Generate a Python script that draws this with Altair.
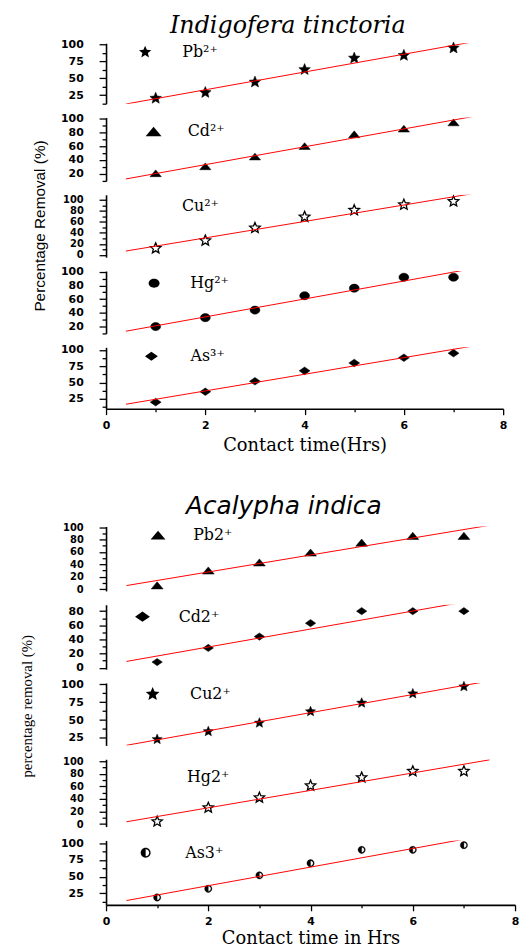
import math
import altair as alt
import pandas as pd

# ---------------- data ----------------
time_hrs = [1, 2, 3, 4, 5, 6, 7]

# Indigofera tinctoria (upper figure)
it_pb = [20.5, 29, 44.5, 63, 80, 84, 95]
it_cd = [21, 31, 45, 60, 77, 85, 94]
it_cu = [12, 26, 49, 69, 81, 91, 97]
it_hg = [20, 33, 44, 65, 76, 92, 92]
it_as = [20, 36, 52, 68, 80, 88, 95]
it_ions = ["Pb²⁺", "Cd²⁺", "Cu²⁺", "Hg²⁺", "As³⁺"]

# Acalypha indica (lower figure)
ai_pb = [6, 30, 43, 59, 75, 86, 86]
ai_cd = [8, 28, 44, 63, 80, 80, 80]
ai_cu = [23, 34, 46, 62, 74, 87, 97]
ai_hg = [4, 26, 42, 61, 74, 84, 84]
ai_as = [19, 32, 52, 70, 90, 90, 97]
ai_ions = ["Pb2⁺", "Cd2⁺", "Cu2⁺", "Hg2⁺", "As3⁺"]

x_ticks = [0, 1, 2, 3, 4, 5, 6, 7, 8]

# y-axis domains and major tick steps per panel
it_domains = [[12.5, 102], [10, 101], [-4, 109], [10, 101], [10, 104]]
it_steps = [25, 20, 20, 20, 25]
ai_domains = [[-3, 101], [-2, 89], [14.5, 102], [-4, 103], [8, 104]]
ai_steps = [20, 20, 25, 20, 25]


# ---------------- marker shapes ----------------
def star_path(inner=0.45):
    pts = []
    for k in range(10):
        ang = math.radians(-90 + 36 * k)
        r = 1.0 if k % 2 == 0 else inner
        pts.append(f"{r * math.cos(ang):.3f},{r * math.sin(ang):.3f}")
    return "M" + "L".join(pts) + "Z"


STAR = star_path()
TRI = "M0,-0.6L1,0.6L-1,0.6Z"
DIA = "M-1,0L0,-0.7L1,0L0,0.7Z"
CIRC = "M-1,0A1,0.82 0 1 0 1,0A1,0.82 0 1 0 -1,0Z"
HALF = ("M0,-1A1,1 0 0 0 0,1Z"
        "M0,-1A1,1 0 0 1 0,1L0,0.72A0.72,0.72 0 0 0 0,-0.72Z")

SERIF_WIDE = "DejaVu Serif"
BOLD_SANS = "DejaVu Sans"


def tick_values(lo, hi, step):
    half = step / 2
    vals = []
    k = math.ceil(lo / half - 1e-9)
    while k * half <= hi + 1e-9:
        vals.append(k * half)
        k += 1
    return vals


def panel(values, ion, dom, step, shape, size, fill, stroke, sw,
          leg, width, height, xtitle=None, xtitle_pad=6, ytitle=None, title=None):
    df = pd.DataFrame({"t": time_hrs, "v": values, "ion": [ion] * len(values)})
    lo, hi = dom
    yvals = tick_values(lo, hi, step)
    px_per_major = height * step / (hi - lo)
    lab_size = 11 if px_per_major >= 13.5 else 10
    ykw = dict(
        values=yvals,
        labelExpr=f"datum.value % {step} === 0 ? datum.label : ''",
        tickSize={"condition": {"test": f"datum.value % {step} === 0", "value": 7}, "value": 4},
        labelFont=BOLD_SANS, labelFontWeight="bold", labelFontSize=lab_size,
        labelColor="black", labelPadding=16, labelOverlap=False,
        domainColor="black", domainWidth=1.6, tickColor="black", tickWidth=1.3,
        grid=False,
    )
    if ytitle is not None:
        ykw.update(title=ytitle["text"], titleFont=ytitle["font"],
                   titleFontSize=ytitle["size"], titleFontWeight="normal",
                   titleColor="black", titleX=ytitle["x"], titleY=ytitle["y"])
    else:
        ykw.update(title=None)
    yaxis = alt.Axis(**ykw)

    if xtitle is not None:
        xaxis = alt.Axis(
            values=x_ticks,
            labelExpr="datum.value % 2 === 0 ? datum.label : ''",
            tickSize={"condition": {"test": "datum.value % 2 === 0", "value": 6}, "value": 3},
            labelFont=BOLD_SANS, labelFontWeight="bold", labelFontSize=11,
            labelColor="black", labelPadding=5, labelFlush=False,
            domainColor="black", domainWidth=1.6, tickColor="black", tickWidth=1.3,
            grid=False, title=xtitle, titleFont=SERIF_WIDE, titleFontSize=18,
            titleFontWeight="normal", titleColor="black", titlePadding=xtitle_pad,
        )
    else:
        xaxis = None

    x = alt.X("t:Q", scale=alt.Scale(domain=[0, 8], nice=False, zero=False), axis=xaxis)
    y = alt.Y("v:Q", scale=alt.Scale(domain=[lo, hi], nice=False, zero=False), axis=yaxis)

    dx, dy, gap, lsize = leg
    w = math.sqrt(lsize)
    legend = alt.Legend(
        orient="none", legendX=dx - w / 2, legendY=dy - max(w, 16) / 2,
        title=None, labelFont=SERIF_WIDE, labelFontSize=16, labelColor="black",
        labelOffset=gap - w / 2, symbolSize=lsize, symbolFillColor=fill,
        symbolStrokeColor=stroke, symbolStrokeWidth=sw, symbolOpacity=1, padding=0,
    )

    pts = alt.Chart(df).mark_point(
        filled=True, fill=fill, stroke=stroke, strokeWidth=sw, size=size, opacity=1
    ).encode(
        x=x, y=y,
        shape=alt.Shape("ion:N", scale=alt.Scale(domain=[ion], range=[shape]), legend=legend),
    )
    line = alt.Chart(df).transform_regression(
        "t", "v", extent=[0.4, 7.5]
    ).mark_line(color="red", strokeWidth=1, clip=True).encode(x=x, y=y)

    ch = alt.layer(pts, line).properties(width=width, height=height)
    if title is not None:
        ch = ch.properties(title=title)
    return ch


TOP_W = 401
BOT_W = 413
top_h = [61, 64, 63, 63, 62]
bot_h = [65, 65, 63, 68, 65]

top_title = alt.Title("Indigofera tinctoria", font="DejaVu Serif", fontStyle="italic",
                      fontSize=24, fontWeight="normal", color="black",
                      anchor="middle", frame="group", dx=-17, offset=1)
bot_title = alt.Title("Acalypha indica", font="DejaVu Sans", fontStyle="italic",
                      fontSize=25, fontWeight="normal", color="black",
                      anchor="middle", frame="group", dx=-27, offset=3)

top_ytitle = {"text": "Percentage Removal (%)", "font": "Liberation Sans", "size": 15.5,
              "x": -59, "y": 31}
bot_ytitle = {"text": "percentage removal (%)", "font": "Liberation Serif", "size": 15,
              "x": -72, "y": 23}

it_series = [it_pb, it_cd, it_cu, it_hg, it_as]
ai_series = [ai_pb, ai_cd, ai_cu, ai_hg, ai_as]

# (shape, data size, fill, stroke, strokeWidth, legend(dx, dy, label gap, legend size))
it_style = [
    (STAR, 150, "black", "black", 0.5, (38, 9, 36, 170)),
    (TRI, 130, "black", "black", 0.5, (47.5, 13.5, 34, 256)),
    (STAR, 125, "white", "black", 1.3, (38.5, 11.5, 34, 140)),
    (CIRC, 100, "black", "black", 0.5, (46, 12.3, 34, 120)),
    (DIA, 121, "black", "black", 0.5, (44.3, 9, 38, 169)),
]
ai_style = [
    (TRI, 144, "black", "black", 0.5, (52, 8.7, 35, 225)),
    (DIA, 110, "black", "black", 0.5, (36.3, 12, 36, 225)),
    (STAR, 115, "black", "black", 0.5, (46.3, 11.3, 37, 210)),
    (STAR, 120, "white", "black", 1.3, (43, 18.3, 34, 125)),
    (HALF, 55, "black", "black", 0.3, (37, 12.4, 37, 100)),
]

top_panels = []
for i in range(5):
    shp, sz, fl, st, sw, lg = it_style[i]
    top_panels.append(panel(
        it_series[i], it_ions[i], it_domains[i], it_steps[i], shp, sz, fl, st, sw, lg,
        TOP_W, top_h[i],
        xtitle="Contact time(Hrs)" if i == 4 else None, xtitle_pad=6,
        ytitle=top_ytitle if i == 2 else None,
        title=top_title if i == 0 else None,
    ))
bot_panels = []
for i in range(5):
    shp, sz, fl, st, sw, lg = ai_style[i]
    bot_panels.append(panel(
        ai_series[i], ai_ions[i], ai_domains[i], ai_steps[i], shp, sz, fl, st, sw, lg,
        BOT_W, bot_h[i],
        xtitle="Contact time in Hrs" if i == 4 else None, xtitle_pad=3,
        ytitle=bot_ytitle if i == 2 else None,
        title=bot_title if i == 0 else None,
    ))


def group(panels):
    return alt.vconcat(*panels, spacing=14, bounds="flush").resolve_scale(
        x="independent", y="independent", shape="independent"
    ).resolve_legend(shape="independent")


chart = alt.vconcat(group(top_panels), group(bot_panels), spacing=40).resolve_scale(
    x="independent", y="independent", shape="independent"
).resolve_legend(shape="independent").properties(
    padding={"left": 11, "top": 1, "right": 0, "bottom": 0},
    background="white",
).configure_view(stroke=None)

chart.save("out.html", embed_options={"renderer": "svg", "actions": False})
